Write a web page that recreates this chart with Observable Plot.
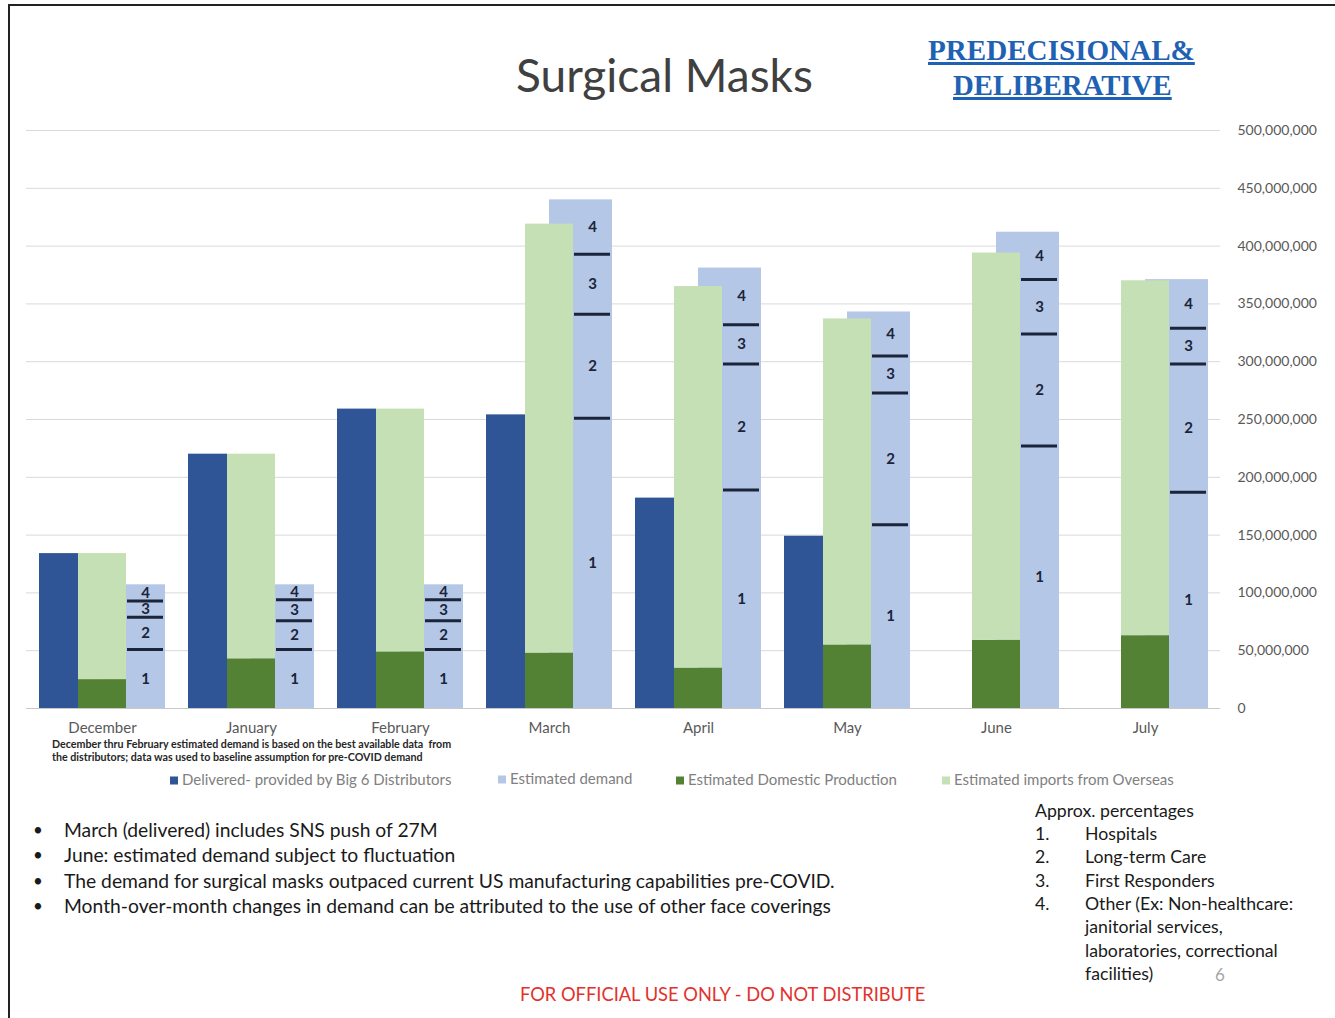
<!DOCTYPE html>
<html>
<head>
<meta charset="utf-8">
<script src="https://cdn.jsdelivr.net/npm/d3@7"></script>
<script src="https://cdn.jsdelivr.net/npm/@observablehq/plot@0.6"></script>
<style>
  html, body { margin: 0; padding: 0; background: #fff; }
  #page { position: relative; width: 1335px; height: 1018px; overflow: hidden; font-family: Lato, "Open Sans", sans-serif; }
  .t { position: absolute; white-space: nowrap; transform: translateY(-50%); }
  #chart { position: absolute; left: 0; top: 0; }
  .sw { display: inline-block; width: 8px; height: 8px; margin-right: 4px; vertical-align: 0px; }
</style>
</head>
<body>
<div id="page">
  <div style="position:absolute;left:8px;top:4px;right:-10px;bottom:-10px;border-left:2px solid #222;border-top:2px solid #222;"></div>
  <div id="chart"></div>
</div>
<script>
// ---- data (values in millions of masks) ----
const months = ["December", "January", "February", "March", "April", "May", "June", "July"];
const delivered = [134, 220, 259, 254, 182, 149, null, null];
const domestic = [25, 43, 49, 48, 35, 55, 59, 63];
const imports = [109, 177, 210, 371, 330, 282, 335, 307];
const demand = [107, 107, 107, 440, 381, 343, 412, 371];
const hospitals = [51, 51, 51, 251, 189, 159, 227, 187];
const longTermCare = [28, 25, 25, 90, 109, 114, 97, 111];
const firstResponders = [14, 18, 18, 52, 34, 32, 47, 31];
const other = [14, 13, 13, 47, 49, 38, 41, 42];
const yTicks = [0, 50, 100, 150, 200, 250, 300, 350, 400, 450, 500];
const segmentLabels = ["1", "2", "3", "4"];

const M = 1e6;
const deliveredRows = months.map((m, i) => ({month: m, value: delivered[i] == null ? null : delivered[i] * M})).filter(d => d.value != null);
const demandRows = months.map((m, i) => ({month: m, value: demand[i] * M}));
const supplyRows = months.flatMap((m, i) => [
  {month: m, type: "Domestic", value: domestic[i] * M},
  {month: m, type: "Imports", value: imports[i] * M}
]);
const segs = [hospitals, longTermCare, firstResponders, other];
const dividerRows = [];
const labelRows = [];
months.forEach((m, i) => {
  let cum = 0;
  segs.forEach((s, k) => {
    labelRows.push({month: m, y: (cum + s[i] / 2) * M, label: segmentLabels[k]});
    cum += s[i];
    if (k < 3) dividerRows.push({month: m, y: cum * M});
  });
});

const ink = "#1b2438";
const chart = Plot.plot({
  width: 1335,
  height: 742,
  marginLeft: 26,
  marginRight: 115,
  marginTop: 130,
  marginBottom: 34,
  style: {fontFamily: "Lato, sans-serif", fontSize: "13px", color: "#595959", background: "transparent"},
  x: {domain: months, paddingInner: 0.155, paddingOuter: 0.0775, label: null},
  y: {domain: [0, 500 * M], label: null},
  color: {type: "identity"},
  marks: [
    Plot.gridY(yTicks.map(v => v * M), {stroke: "#d9d9d9", strokeOpacity: 1}),
    Plot.axisY(yTicks.map(v => v * M), {anchor: "right", tickSize: 0, tickPadding: 17, tickFormat: d3.format(","), fill: "#595959", fontSize: 14, label: null}),
    Plot.axisX({tickSize: 0, tickPadding: 14, fill: "#595959", fontSize: 15, label: null}),
    Plot.ruleY([0], {stroke: "#c8c8c8"}),
    Plot.barY(demandRows, {x: "month", y: "value", fill: "#b4c7e7", insetLeft: 63}),
    Plot.barY(supplyRows, {x: "month", y: "value", fill: d => d.type === "Domestic" ? "#548235" : "#c5e0b4", insetLeft: 39, insetRight: 39}),
    Plot.barY(deliveredRows, {x: "month", y: "value", fill: "#2f5597", insetRight: 87}),
    Plot.tickY(dividerRows, {x: "month", y: "y", stroke: ink, strokeWidth: 3, insetLeft: 88, insetRight: 2}),
    Plot.text(labelRows, {x: "month", y: "y", text: "label", dx: 43, fill: ink, fontWeight: "bold", fontSize: 15})
  ]
});
document.getElementById("chart").appendChild(chart);

// ---- text overlays ----
const page = document.getElementById("page");
function addText(txt, x, y, style) {
  const d = document.createElement("div");
  d.className = "t";
  d.style.left = x + "px";
  d.style.top = y + "px";
  Object.assign(d.style, style || {});
  d.innerHTML = txt;
  page.appendChild(d);
  return d;
}
addText("Surgical Masks", 516, 75, {fontSize: "46px", color: "#404040", lineHeight: "52px"});
const pd = {fontFamily: "'Liberation Serif', serif", fontWeight: "bold", fontSize: "30px", color: "#1f62b4", textDecoration: "underline", lineHeight: "34px", transformOrigin: "left center"};
addText("PREDECISIONAL&amp;", 928, 50, Object.assign({}, pd, {transform: "translateY(-50%) scaleX(0.97)"}));
addText("DELIBERATIVE", 953, 85, Object.assign({}, pd, {transform: "translateY(-50%) scaleX(0.96)"}));

const fn = {fontSize: "10.7px", color: "#262626", fontWeight: "bold", lineHeight: "12px"};
addText("December thru February estimated demand is based on the best available data&nbsp; from", 52, 744, fn);
addText("the distributors; data was used to baseline assumption for pre-COVID demand", 52, 757, fn);

const lg = {fontSize: "15px", color: "#808080", lineHeight: "17px"};
addText('<span class="sw" style="background:#2f5597"></span>Delivered- provided by Big 6 Distributors', 170, 779, lg);
addText('<span class="sw" style="background:#b4c7e7"></span>Estimated demand', 498, 778, lg);
addText('<span class="sw" style="background:#548235"></span>Estimated Domestic Production', 676, 779, lg);
addText('<span class="sw" style="background:#c5e0b4"></span>Estimated imports from Overseas', 942, 779, lg);

const bl = {fontSize: "19.3px", color: "#1a1a1a", lineHeight: "22px"};
const bullets = [
  "March (delivered) includes SNS push of 27M",
  "June: estimated demand subject to fluctuation",
  "The demand for surgical masks outpaced current US manufacturing capabilities pre-COVID.",
  "Month-over-month changes in demand can be attributed to the use of other face coverings"
];
bullets.forEach((b, i) => {
  const y = 830 + i * 25.3;
  addText("•", 33, y, Object.assign({}, bl, {fontSize: "17px"}));
  addText(b, 64, y, bl);
});

const rl = {fontSize: "17.7px", color: "#1a1a1a", lineHeight: "20px"};
addText("Approx. percentages", 1035, 811, rl);
const rlist = [["1.", "Hospitals"], ["2.", "Long-term Care"], ["3.", "First Responders"], ["4.", "Other (Ex: Non-healthcare:"], ["", "janitorial services,"], ["", "laboratories, correctional"], ["", "facilities)"]];
rlist.forEach((r, i) => {
  const y = 834 + i * 23.3;
  if (r[0]) addText(r[0], 1035, y, rl);
  addText(r[1], 1085, y, rl);
});
addText("6", 1215, 975, {fontSize: "17px", color: "#a6a6a6", lineHeight: "20px"});
addText("FOR OFFICIAL USE ONLY - DO NOT DISTRIBUTE", 520, 994, {fontSize: "18.3px", color: "#e3322c", lineHeight: "22px"});
</script>
</body>
</html>
